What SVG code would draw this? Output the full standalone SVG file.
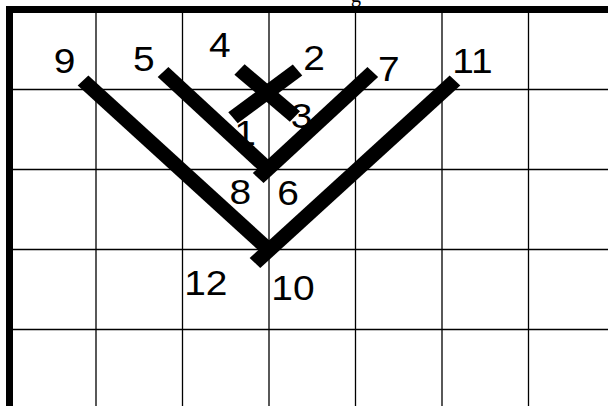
<svg xmlns="http://www.w3.org/2000/svg" width="608" height="406" viewBox="0 0 608 406">
<style>
.g{stroke:#000;stroke-width:1.3;fill:none}
.b{stroke:#000;stroke-width:7;fill:none}
.t{stroke:#000;stroke-width:14;stroke-linecap:butt;fill:none}
.l{font-family:"Liberation Sans",Arial,sans-serif;font-size:36px;fill:#000}
</style>
<rect width="608" height="406" fill="#fff"/>
<g id="grid">
<path class="g" d="M96 9.5V410M182.5 9.5V410M269 9.5V410M355.5 9.5V410M442 9.5V410M528.5 9.5V410M9.5 89.5H608M9.5 169.5H608M9.5 249.5H608M9.5 329.5H608"/>
<path class="b" d="M9.5 413V9.5H608M6 409.5H608"/>
</g>
<text x="351" y="1.5" style="font-family:'Liberation Serif',serif;font-size:20px">g</text>
<g transform="translate(269,0) scale(1.08125,1) translate(-250,0)">
<g id="connectors">
<line id="c9-10" class="t" x1="78" y1="80.5" x2="250" y2="250"/>
<line id="c11-12" class="t" x1="422" y1="80.5" x2="237" y2="263"/>
<line id="c5-6" class="t" x1="152" y1="72" x2="249" y2="169"/>
<line id="c7-8" class="t" x1="346" y1="72" x2="240" y2="178"/>
<line id="c4-3" class="t" x1="222.7" y1="69.5" x2="274" y2="116.5"/>
<line id="c1-2" class="t" x1="216.7" y1="117.7" x2="276.4" y2="70"/>
</g>
<g id="labels" class="l">
<text id="n9" x="51" y="72.7">9</text>
<text id="n5" x="124.3" y="71.5">5</text>
<text id="n4" x="194.6" y="57.5">4</text>
<text id="n2" x="281.7" y="70">2</text>
<text id="n7" x="350.9" y="81.5">7</text>
<text id="n11" x="419.5" y="73.5">11</text>
<text id="n1" x="217.9" y="145">1</text>
<text id="n3" x="270.1" y="128.5">3</text>
<text id="n8" x="213.5" y="204.5">8</text>
<text id="n6" x="257.7" y="205.5">6</text>
<text id="n12" x="171.6" y="295">12</text>
<text id="n10" x="252.1" y="300">10</text>
</g>
</g>
</svg>
